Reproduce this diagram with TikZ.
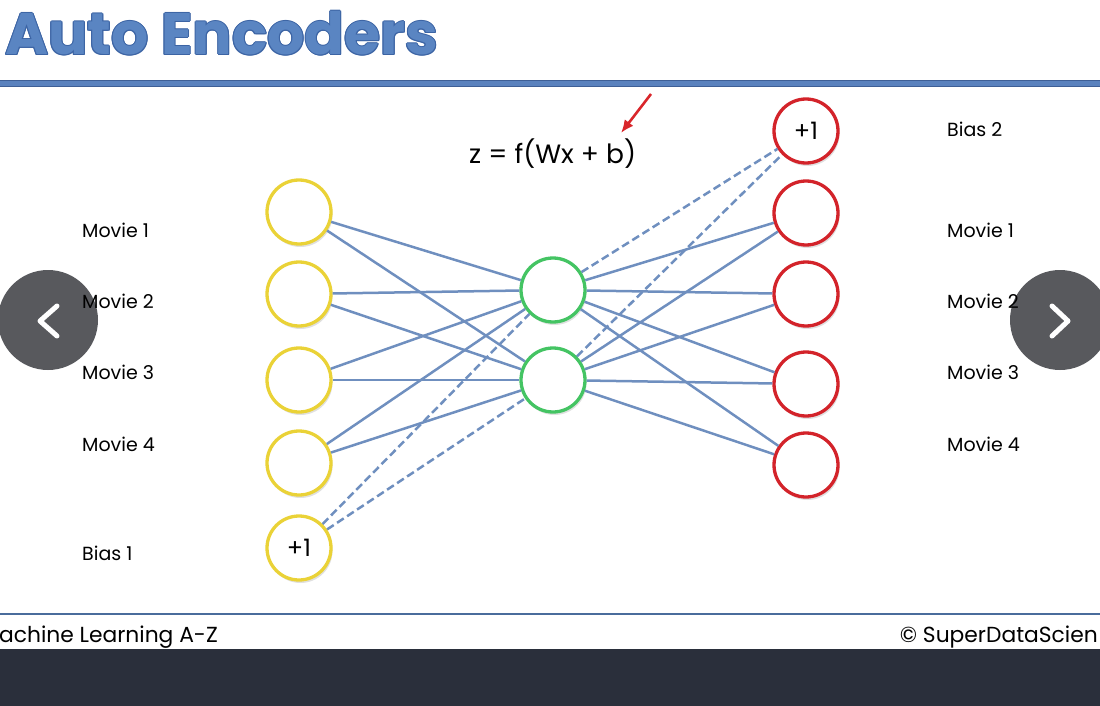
\documentclass[tikz,border=0pt]{standalone}
\usepackage{fontspec}
\setmainfont{Poppins}
\usetikzlibrary{shadows,arrows.meta}
\definecolor{titlefill}{HTML}{5A85C2}
\definecolor{titleedge}{HTML}{3C64A4}
\definecolor{ruleblue}{HTML}{5A82BE}
\definecolor{ruledark}{HTML}{3E5F96}
\definecolor{footrule}{HTML}{4A6C9C}
\definecolor{wire}{HTML}{6F8FBF}
\definecolor{inyellow}{HTML}{EAD237}
\definecolor{hidgreen}{HTML}{44C463}
\definecolor{outred}{HTML}{D3232A}
\definecolor{navgray}{HTML}{58595D}
\definecolor{barnavy}{HTML}{2A2F3B}
\definecolor{arrowred}{HTML}{D9262B}
\tikzset{
  neuron/.style={circle, draw, line width=3.3pt, fill=white, minimum size=64pt, inner sep=0pt,
    font=\fontsize{24}{26}\selectfont,
    drop shadow={shadow xshift=1.5pt, shadow yshift=-3pt, opacity=0.12, fill=black}},
  inunit/.style={neuron, draw=inyellow},
  hidunit/.style={neuron, draw=hidgreen},
  outunit/.style={neuron, draw=outred},
  label/.style={anchor=base west, inner sep=0pt, font=\fontsize{19}{21}\selectfont},
  foot/.style={inner sep=0pt, font=\fontsize{21.8}{23}\selectfont},
  wireline/.style={draw=wire, line width=2.5pt},
  biasline/.style={wireline, dash pattern=on 8pt off 4pt},
  navbtn/.style={circle, fill=navgray, minimum size=100pt, inner sep=0pt},
  chevron/.style={draw=white, line width=5pt, line cap=round, line join=round},
}
\begin{document}
\begin{tikzpicture}[x=1pt, y=-1pt]
\useasboundingbox (0,0) rectangle (1100,706);
\clip (0,0) rectangle (1100,706);

% title with outlined lettering
\foreach \dx/\dy in {-1/0,1/0,0/-1,0/1,-0.8/-0.8,0.8/0.8,-0.8/0.8,0.8/-0.8} {
  \node[anchor=base west, inner sep=0pt, text=titleedge, font=\fontsize{58.5}{60}\bfseries\selectfont]
    at (5+\dx,55+\dy) {Auto Encoders};
}
\node (title) [anchor=base west, inner sep=0pt, text=titlefill, font=\fontsize{58.5}{60}\bfseries\selectfont]
  at (5,55) {Auto Encoders};

% header rule
\fill[ruleblue] (0,81) rectangle (1100,87);
\draw[ruledark, line width=1pt] (0,81) -- (1100,81) (0,87) -- (1100,87);

% footer rule and dark bar
\draw[footrule, line width=1.8pt] (0,614) -- (1100,614);
\fill[barnavy] (0,649) rectangle (1100,706);
\node (foot1) [foot, anchor=base east] at (218,642) {achine Learning A-Z};
\node (foot2) [foot, anchor=base east] at (1098,642) {© SuperDataScien};

% formula and pointer
\node (formula) [anchor=base west, inner sep=0pt, font=\fontsize{26.5}{28}\selectfont] at (469,163) {z = f(Wx + b)};
\coordinate (ptail) at (651,94);
\coordinate (phead) at (621,133);
\draw[arrowred, line width=2.6pt, -{Latex[length=13pt,width=11pt]}] (ptail) -- (phead);

% units
\node[inunit] (y1) at (299,212) {};
\node[inunit] (y2) at (299,294) {};
\node[inunit] (y3) at (299,380) {};
\node[inunit] (y4) at (299,463) {};
\node[inunit] (yb) at (299,548) {+1};

\node[hidunit] (g1) at (553,290) {};
\node[hidunit] (g2) at (553,380) {};

\node[outunit] (r0) at (806,131) {+1};
\node[outunit] (r1) at (806,213) {};
\node[outunit] (r2) at (806,294) {};
\node[outunit] (r3) at (806,384) {};
\node[outunit] (r4) at (806,465) {};

% connections
\foreach \a in {y1,y2,y3,y4} \foreach \b in {g1,g2} \draw[wireline] (\a) -- (\b);
\foreach \b in {g1,g2} \draw[biasline] (yb) -- (\b);
\foreach \a in {g1,g2} \foreach \b in {r1,r2,r3,r4} \draw[wireline] (\a) -- (\b);
\foreach \a in {g1,g2} \draw[biasline] (\a) -- (r0);

% navigation buttons
\node[navbtn] (prev) at (48,320) {};
\node[navbtn] (next) at (1060,320) {};
\draw[chevron] (57,306) -- (40,321) -- (57,336);
\draw[chevron] (1052,306) -- (1068,321) -- (1052,336);

% side labels
\node[label] (lm1) at (82,237) {Movie 1};
\node[label] (lm2) at (82,308) {Movie 2};
\node[label] (lm3) at (82,379) {Movie 3};
\node[label] (lm4) at (82,451) {Movie 4};
\node[label] (lb1) at (82,560) {Bias 1};

\node[label] (rb2) at (947,137) {Bias 2};
\node[label] (rm1) at (947,237) {Movie 1};
\node[label] (rm2) at (947,308) {Movie 2};
\node[label] (rm3) at (947,379) {Movie 3};
\node[label] (rm4) at (947,451) {Movie 4};
\end{tikzpicture}
\end{document}
